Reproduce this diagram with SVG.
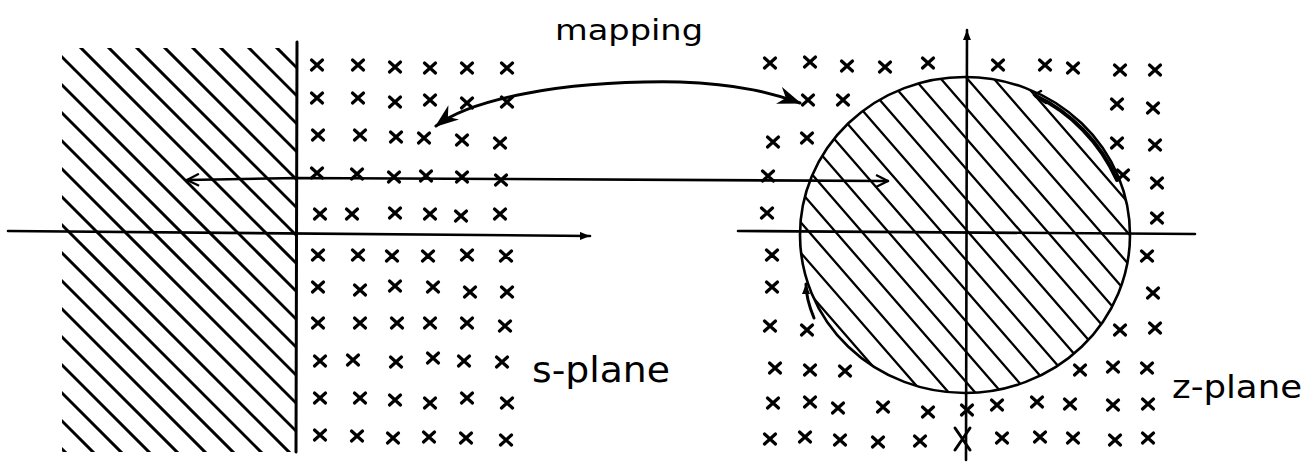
<svg xmlns="http://www.w3.org/2000/svg" xmlns:xlink="http://www.w3.org/1999/xlink" width="1312" height="466" viewBox="0 0 1312 466">
<style>
.ln{stroke:#000;fill:none;stroke-linecap:round;stroke-linejoin:round}
.ax{stroke-width:2.6}
.h1{stroke-width:3}
.h2{stroke-width:2.3}
.lbl{font-family:"DejaVu Sans","Liberation Sans",sans-serif;fill:#000}
</style>
<defs>
<g id="x"><path class="ln" d="M-5.5,-5 L5.5,5 M5.5,-5 L-5.5,5" stroke-width="3.2"/></g>
<marker id="open" viewBox="0 0 14 14" refX="13" refY="7" markerWidth="14" markerHeight="14" markerUnits="userSpaceOnUse" orient="auto-start-reverse"><path d="M1,1 L13,7 L1,13" fill="none" stroke="#000" stroke-width="2.2"/></marker>
<marker id="fill" viewBox="0 0 16 12" refX="15" refY="6" markerWidth="24" markerHeight="18" markerUnits="userSpaceOnUse" orient="auto-start-reverse"><path d="M0,0 L16,6 L0,12 L5,6 Z" fill="#000"/></marker>
<marker id="small" viewBox="0 0 10 8" refX="10" refY="4" markerWidth="10" markerHeight="8" markerUnits="userSpaceOnUse" orient="auto"><path d="M0,0 L10,4 L0,8 Z" fill="#000"/></marker>
<clipPath id="lclip"><rect x="62" y="48" width="234" height="404"/></clipPath>
<clipPath id="cclip"><ellipse cx="965" cy="235" rx="165" ry="158"/></clipPath>
</defs>
<rect width="1312" height="466" fill="#fff"/>

<g id="s-plane">
<g clip-path="url(#lclip)">
<path class="ln h1" d="M0,-229 L600,371 M0,-201 L600,399 M0,-173 L600,427 M0,-145 L600,455 M0,-117 L600,483 M0,-89 L600,511 M0,-61 L600,539 M0,-33 L600,567 M0,-5 L600,595 M0,23 L600,623 M0,51 L600,651 M0,79 L600,679 M0,107 L600,707 M0,135 L600,735 M0,163 L600,763 M0,191 L600,791 M0,219 L600,819 M0,247 L600,847 M0,275 L600,875 M0,303 L600,903 M0,331 L600,931 M0,359 L600,959 M0,387 L600,987"/>
</g>
<path class="ln" stroke-width="3" d="M297,42 L296,452"/>
<path class="ln ax" d="M8,231 L590,236" marker-end="url(#small)"/>
<g id="s-crosses">
<use xlink:href="#x" x="317" y="65"/><use xlink:href="#x" x="358" y="65"/><use xlink:href="#x" x="395" y="67"/><use xlink:href="#x" x="430" y="68"/><use xlink:href="#x" x="467" y="68"/><use xlink:href="#x" x="507" y="68"/>
<use xlink:href="#x" x="317" y="98"/><use xlink:href="#x" x="358" y="98"/><use xlink:href="#x" x="395" y="102"/><use xlink:href="#x" x="430" y="100"/><use xlink:href="#x" x="467" y="103"/><use xlink:href="#x" x="507" y="102"/>
<use xlink:href="#x" x="318" y="135"/><use xlink:href="#x" x="360" y="135"/><use xlink:href="#x" x="396" y="137"/><use xlink:href="#x" x="424" y="138"/><use xlink:href="#x" x="462" y="140"/><use xlink:href="#x" x="500" y="143"/>
<use xlink:href="#x" x="317" y="173"/><use xlink:href="#x" x="357" y="174"/><use xlink:href="#x" x="394" y="177"/><use xlink:href="#x" x="426" y="176"/><use xlink:href="#x" x="462" y="177"/><use xlink:href="#x" x="501" y="180"/>
<use xlink:href="#x" x="320" y="214"/><use xlink:href="#x" x="352" y="214"/><use xlink:href="#x" x="395" y="213"/><use xlink:href="#x" x="430" y="214"/><use xlink:href="#x" x="461" y="216"/><use xlink:href="#x" x="500" y="214"/>
<use xlink:href="#x" x="318" y="255"/><use xlink:href="#x" x="358" y="255"/><use xlink:href="#x" x="392" y="256"/><use xlink:href="#x" x="428" y="256"/><use xlink:href="#x" x="467" y="255"/><use xlink:href="#x" x="506" y="256"/>
<use xlink:href="#x" x="318" y="287"/><use xlink:href="#x" x="360" y="290"/><use xlink:href="#x" x="395" y="286"/><use xlink:href="#x" x="433" y="287"/><use xlink:href="#x" x="470" y="292"/><use xlink:href="#x" x="507" y="292"/>
<use xlink:href="#x" x="318" y="323"/><use xlink:href="#x" x="360" y="323"/><use xlink:href="#x" x="397" y="323"/><use xlink:href="#x" x="430" y="323"/><use xlink:href="#x" x="467" y="323"/><use xlink:href="#x" x="505" y="326"/>
<use xlink:href="#x" x="320" y="361"/><use xlink:href="#x" x="353" y="360"/><use xlink:href="#x" x="396" y="362"/><use xlink:href="#x" x="433" y="358"/><use xlink:href="#x" x="464" y="361"/><use xlink:href="#x" x="502" y="362"/>
<use xlink:href="#x" x="320" y="398"/><use xlink:href="#x" x="360" y="398"/><use xlink:href="#x" x="395" y="400"/><use xlink:href="#x" x="430" y="403"/><use xlink:href="#x" x="467" y="398"/><use xlink:href="#x" x="507" y="403"/>
<use xlink:href="#x" x="320" y="435"/><use xlink:href="#x" x="357" y="436"/><use xlink:href="#x" x="393" y="438"/><use xlink:href="#x" x="429" y="437"/><use xlink:href="#x" x="466" y="438"/><use xlink:href="#x" x="506" y="440"/>
</g>
<text class="lbl" x="532" y="382" font-size="36" textLength="138" lengthAdjust="spacingAndGlyphs">s-plane</text>
</g>

<g id="z-plane">
<g clip-path="url(#cclip)">
<path class="ln h2" d="M760,236.5 L1160,696.5 M760,206 L1160,665.5 M760,175.5 L1160,635.5 M760,145 L1160,605 M760,114.5 L1160,575 M760,84 L1160,545 M760,53.6 L1160,513.6 M760,23.1 L1160,483.1 M760,-7.4 L1160,452.6 M760,-37.8 L1160,422.2 M760,-68.3 L1160,391.7 M760,-98.8 L1160,361.2 M760,-129.3 L1160,330.8 M760,-159.7 L1160,300.3 M760,-190.2 L1160,269.8 M760,-220.7 L1160,239.3"/>
</g>
<ellipse class="ln" stroke-width="2.6" cx="965" cy="235" rx="165" ry="158"/>
<path class="ln ax" d="M738,231 L1195,234"/>
<path class="ln ax" d="M966,460 L967,30" marker-end="url(#small)"/>
<path class="ln" stroke-width="4" d="M1036,96 C1070,112 1100,142 1117,180"/>
<path class="ln" stroke-width="2.5" d="M1046,103 L1034,95 L1041,91"/>
<path class="ln" stroke-width="3" d="M814,318 C809,306 806,296 806,284" marker-end="url(#small)"/>
<g id="z-crosses">
<use xlink:href="#x" x="770" y="63"/><use xlink:href="#x" x="810" y="62"/><use xlink:href="#x" x="847" y="66"/><use xlink:href="#x" x="885" y="67"/><use xlink:href="#x" x="928" y="63"/><use xlink:href="#x" x="998" y="65"/><use xlink:href="#x" x="1045" y="65"/><use xlink:href="#x" x="1073" y="68"/><use xlink:href="#x" x="1120" y="70"/><use xlink:href="#x" x="1155" y="70"/>
<use xlink:href="#x" x="808" y="100"/><use xlink:href="#x" x="843" y="100"/><use xlink:href="#x" x="1117" y="104"/><use xlink:href="#x" x="1153" y="108"/>
<use xlink:href="#x" x="773" y="142"/><use xlink:href="#x" x="807" y="138"/><use xlink:href="#x" x="1117" y="143"/><use xlink:href="#x" x="1155" y="145"/>
<use xlink:href="#x" x="768" y="176"/><use xlink:href="#x" x="1123" y="175"/><use xlink:href="#x" x="1157" y="183"/>
<use xlink:href="#x" x="767" y="213"/><use xlink:href="#x" x="1157" y="218"/>
<use xlink:href="#x" x="772" y="255"/><use xlink:href="#x" x="1147" y="256"/>
<use xlink:href="#x" x="772" y="287"/><use xlink:href="#x" x="1153" y="293"/>
<use xlink:href="#x" x="770" y="326"/><use xlink:href="#x" x="807" y="330"/><use xlink:href="#x" x="1120" y="330"/><use xlink:href="#x" x="1155" y="328"/>
<use xlink:href="#x" x="775" y="368"/><use xlink:href="#x" x="810" y="370"/><use xlink:href="#x" x="845" y="371"/><use xlink:href="#x" x="1080" y="370"/><use xlink:href="#x" x="1113" y="367"/><use xlink:href="#x" x="1147" y="368"/>
<use xlink:href="#x" x="773" y="403"/><use xlink:href="#x" x="810" y="402"/><use xlink:href="#x" x="838" y="408"/><use xlink:href="#x" x="883" y="407"/><use xlink:href="#x" x="928" y="412"/><use xlink:href="#x" x="967" y="410"/><use xlink:href="#x" x="997" y="405"/><use xlink:href="#x" x="1037" y="402"/><use xlink:href="#x" x="1070" y="404"/><use xlink:href="#x" x="1113" y="405"/><use xlink:href="#x" x="1148" y="404"/>
<use xlink:href="#x" x="770" y="439"/><use xlink:href="#x" x="805" y="437"/><use xlink:href="#x" x="840" y="440"/><use xlink:href="#x" x="878" y="442"/><use xlink:href="#x" x="920" y="441"/><use xlink:href="#x" x="1002" y="438"/><use xlink:href="#x" x="1040" y="437"/><use xlink:href="#x" x="1073" y="438"/><use xlink:href="#x" x="1115" y="440"/><use xlink:href="#x" x="1148" y="438"/>
<path class="ln" stroke-width="3" d="M955,428 L970,450 M970,428 L955,450"/>
</g>
<text class="lbl" x="1172" y="398" font-size="32" textLength="130" lengthAdjust="spacingAndGlyphs">z-plane</text>
</g>

<g id="connectors">
<path class="ln" stroke-width="2.6" d="M187,180 L297,178 L500,179 L888,181" marker-start="url(#open)" marker-end="url(#open)"/>
<path class="ln" stroke-width="3" d="M436,126 C470,100 560,80 680,82 C740,84 775,94 800,103" marker-start="url(#fill)" marker-end="url(#fill)"/>
<text class="lbl" x="555" y="40" font-size="28" textLength="148" lengthAdjust="spacingAndGlyphs">mapping</text>
</g>
</svg>
